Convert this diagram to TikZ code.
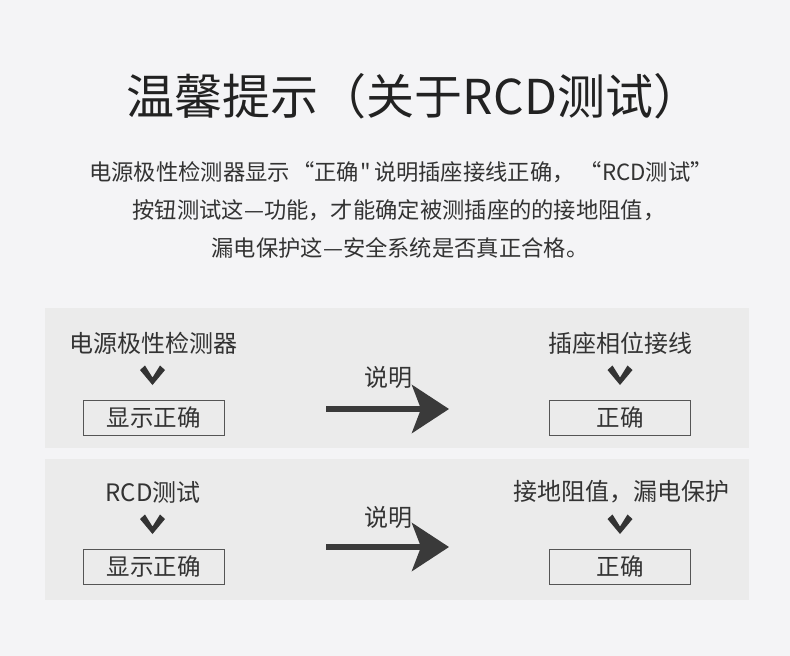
\documentclass[tikz,border=0pt]{standalone}
\usepackage{fontspec}
\setmainfont{Noto Sans CJK SC}[Ligatures=TeXOff]
\usetikzlibrary{arrows.meta}
\definecolor{bg}{HTML}{F4F4F6}
\definecolor{panel}{HTML}{EBEBEB}
\definecolor{ink}{HTML}{333333}
\definecolor{titleink}{HTML}{222222}
\definecolor{boxline}{HTML}{555555}
\definecolor{arrowink}{HTML}{3A3A3A}
\tikzset{
  titletext/.style={font=\fontsize{48}{52}\selectfont, text=titleink, inner sep=0pt},
  paratext/.style={font=\fontsize{22.3}{26}\selectfont, text=ink, inner sep=0pt},
  lbltext/.style={font=\fontsize{24}{28}\selectfont, text=ink, inner sep=0pt},
  resbox/.style={draw=boxline, line width=1pt, minimum width=141pt, minimum height=35pt,
    inner sep=0pt, font=\fontsize{23.5}{27}\selectfont, text=ink},
  panelbg/.style={fill=panel},
  chevron/.pic={\fill[ink] (-12.5,-5.5) -- (-7.5,-10) -- (0,2) -- (7.5,-10) -- (12.5,-5.5) -- (0,9.5) -- cycle;},
  bigarrow/.style={draw=arrowink, line width=6pt,
    -{Stealth[length=37pt,width=48pt,inset=9pt,fill=arrowink]}}
}
\begin{document}
\begin{tikzpicture}[x=1pt,y=-1pt]
\fill[bg] (0,0) rectangle (790,656);
\useasboundingbox (0,0) rectangle (790,656);

\node[titletext] (title) at (414,96) {温馨提示（关于RCD测试）};

\node[paratext] (p1) at (401,172) {电源极性检测器显示\kern2pt“正确\kern1.5pt"\kern3pt说明插座接线正确，\kern5pt“RCD测试”};
\node[paratext] (p2) at (399,210) {按钮测试这—功能，才能确定被测插座的的接地阻值，};
\node[paratext] (p3) at (400,248) {漏电保护这—安全系统是否真正合格。};

% panel 1
\fill[panelbg] (45,308) rectangle (749,448);
\node[lbltext] (l1) at (153,343) {电源极性检测器};
\pic at (152.5,375.5) {chevron};
\node[resbox] (b1) at (153.5,417.5) {显示正确};
\node[lbltext] (m1) at (388,377) {说明};
\coordinate (a1s) at (326,409);
\coordinate (a1e) at (449,409);
\draw[bigarrow] (a1s) -- (a1e);
\node[lbltext] (r1) at (620,343) {插座相位接线};
\pic at (620,375.5) {chevron};
\node[resbox] (c1) at (620,417.5) {正确};

% panel 2
\fill[panelbg] (45,459) rectangle (749,600);
\node[lbltext] (l2) at (153,492) {RCD测试};
\pic at (152.5,524.5) {chevron};
\node[resbox] (b2) at (153.5,566.5) {显示正确};
\node[lbltext] (m2) at (388,517) {说明};
\coordinate (a2s) at (326,547);
\coordinate (a2e) at (449,547);
\draw[bigarrow] (a2s) -- (a2e);
\node[lbltext] (r2) at (621,492) {接地阻值，漏电保护};
\pic at (620,524.5) {chevron};
\node[resbox] (c2) at (620,566.5) {正确};
\end{tikzpicture}
\end{document}
